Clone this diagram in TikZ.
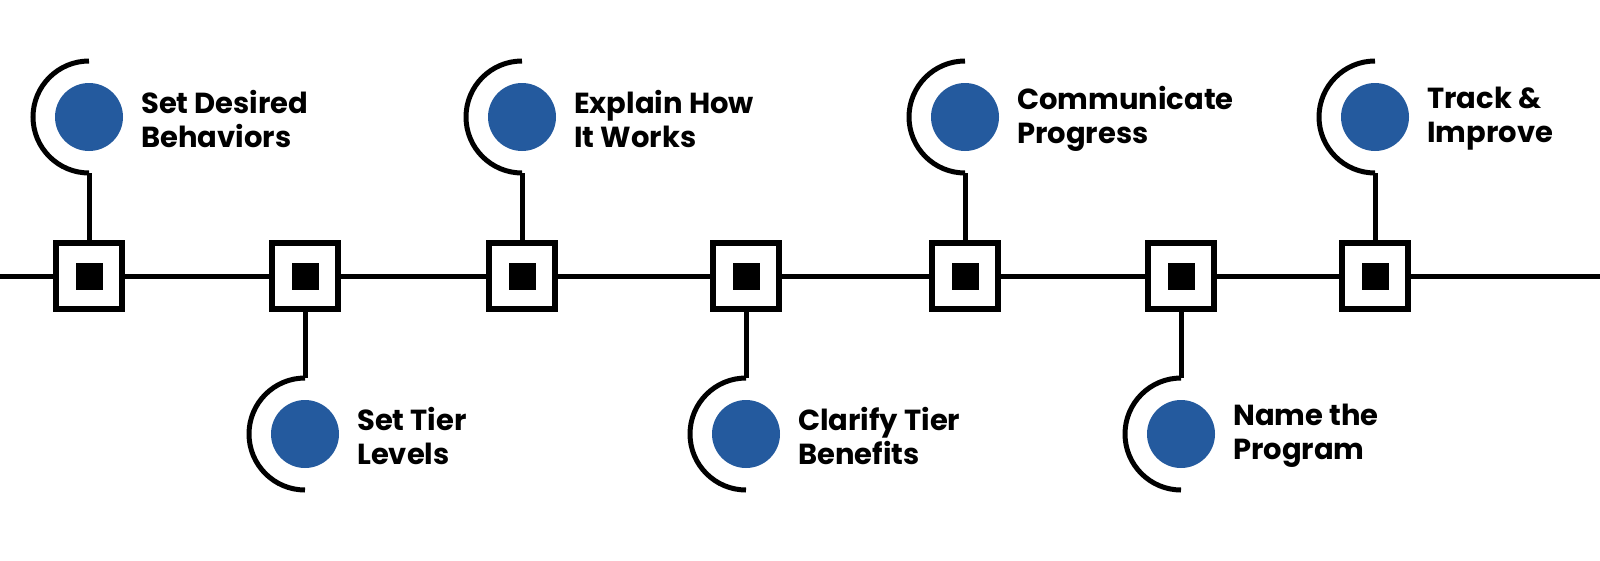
\documentclass[tikz,border=0pt]{standalone}
\usepackage{fontspec}
\setmainfont{Poppins}
\definecolor{dotblue}{HTML}{245A9E}
\begin{document}
\begin{tikzpicture}[x=1pt,y=-1pt,
  box/.style={draw=black,line width=6pt,fill=white,minimum size=66pt,inner sep=0pt},
  core/.style={fill=black,minimum size=27pt,inner sep=0pt},
  dot/.style={circle,fill=dotblue,minimum size=68pt,inner sep=0pt},
  lbl/.style={anchor=west,align=left,font=\fontsize{29}{34}\selectfont\bfseries,inner sep=0pt},
  ln/.style={line width=5pt}]
\useasboundingbox (0,0) rectangle (1600,560);
\coordinate (L) at (0,276);
\coordinate (R) at (1600,276);
\draw[ln] (L) -- (R);
\foreach \i/\x in {1/89,2/305,3/522,4/746,5/965,6/1181,7/1375}{
  \node[box] (s\i) at (\x,276) {};
  \node[core] (c\i) at (\x,276) {};
}
% top items
\foreach \i/\x/\t in {1/89/{Set Desired\\Behaviors},3/522/{Explain How\\It Works},5/965/{Communicate\\Progress},7/1375/{Track \&\\Improve}}{
  \node[dot] (d\i) at (\x,117) {};
  \node[lbl] (t\i) at (\x+52,119) {\t};
  \coordinate (a\i) at (\x,173);
  \draw[ln] (\x,61) arc[start angle=270,end angle=90,radius=56];
  \draw[ln] (a\i) -- (s\i.north);
}
% bottom items
\foreach \i/\x/\t in {2/305/{Set Tier\\Levels},4/746/{Clarify Tier\\Benefits},6/1181/{Name the\\Program}}{
  \node[dot] (d\i) at (\x,434) {};
  \node[lbl] (t\i) at (\x+52,436) {\t};
  \coordinate (a\i) at (\x,378);
  \draw[ln] (\x,378) arc[start angle=270,end angle=90,radius=56];
  \draw[ln] (s\i.south) -- (a\i);
}
\end{tikzpicture}
\end{document}
